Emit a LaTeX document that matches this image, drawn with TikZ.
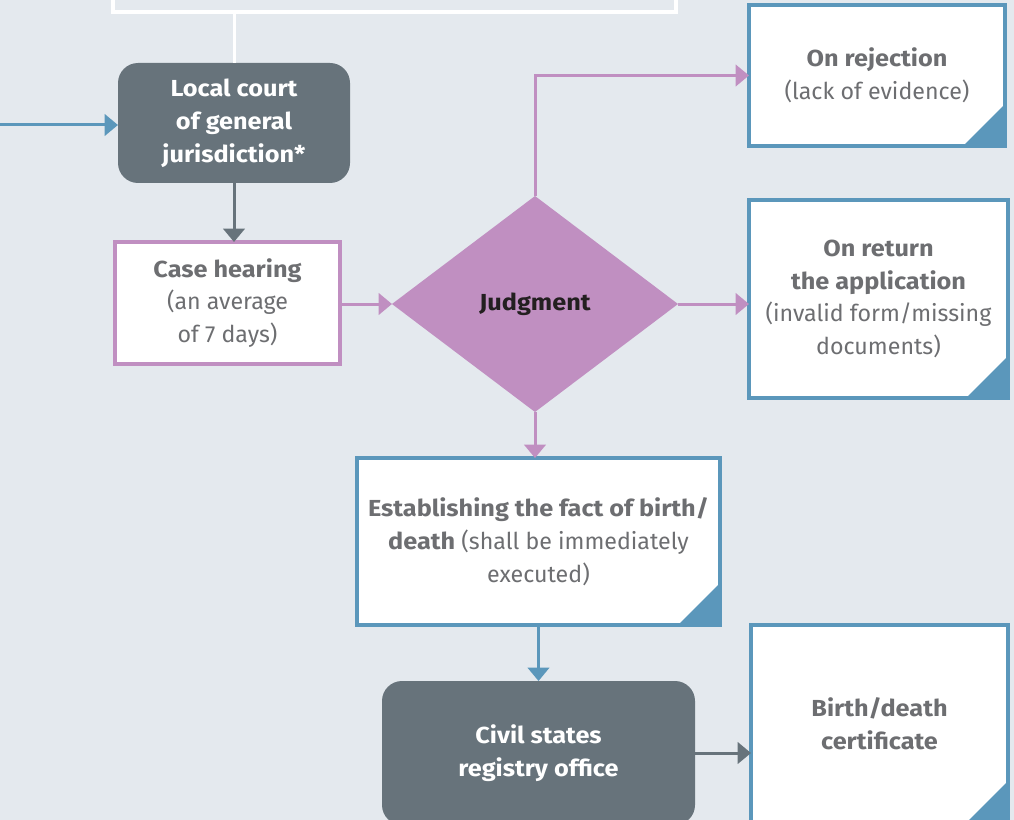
\documentclass[tikz,border=0pt]{standalone}
\usepackage{fontspec}
\setmainfont{Fira Sans}[BoldFeatures={FakeStretch=1.09}]
\usetikzlibrary{arrows.meta,shapes.geometric,calc}
\definecolor{bg}{HTML}{E4E9EE}
\definecolor{slate}{HTML}{67737B}
\definecolor{steel}{HTML}{5B97BB}
\definecolor{orchid}{HTML}{C08FC1}
\definecolor{txtgray}{HTML}{6D6E71}
\definecolor{txtdark}{HTML}{231F20}
\begin{document}
\begin{tikzpicture}[x=0.75pt,y=-0.75pt,
  every node/.style={align=center,font=\fontsize{17.4}{24.6}\selectfont,outer sep=0pt},
  darkbox/.style={rectangle,rounded corners=15pt,fill=slate,text=white,font=\fontsize{17.4}{24.6}\selectfont\bfseries},
  pinkbox/.style={rectangle,draw=orchid,line width=2.4pt,fill=white,text=txtgray},
  docbox/.style={rectangle,draw=steel,line width=2.4pt,fill=white,text=txtgray,
    path picture={\fill[steel] (path picture bounding box.south east) -- ++(-31.5pt,0pt) -- ++(31.5pt,31.5pt) -- cycle;}},
  decision/.style={diamond,fill=orchid,text=txtdark,inner sep=0pt,font=\fontsize{17.4}{24.6}\selectfont\bfseries},
  link/.style={line width=2.25pt,-{Triangle[length=10pt,width=16pt]}},
  plain/.style={line width=2.25pt}]
\fill[bg] (0,0) rectangle (1014,820);
\useasboundingbox (0,0) rectangle (1014,820);
\clip (0,0) rectangle (1014,820);

% upper frame, continuing above the visible area
\node[rectangle,draw=white,line width=2.4pt,minimum width=422.25pt,minimum height=63pt] (top) at (394.5,-30) {};

\node[darkbox,minimum width=174pt,minimum height=90pt] (local) at (234,123)
  {Local court\\of general\\jurisdiction*};
\node[pinkbox,minimum width=168.75pt,minimum height=91.5pt] (case) at (227.5,303)
  {\textbf{Case hearing}\\(an average\\of 7 days)};
\node[decision,minimum width=214.5pt,minimum height=162pt] (judg) at (535,304) {Judgment};
\node[docbox,minimum width=192pt,minimum height=105.75pt] (rej) at (877,75.5)
  {\textbf{On rejection}\\(lack of evidence)};
\node[docbox,minimum width=194.25pt,minimum height=148.5pt] (ret) at (878.5,299)
  {\textbf{On return}\\\textbf{the application}\\(invalid form/missing\\documents)};
\node[docbox,minimum width=272.25pt,minimum height=125.25pt] (est) at (538.5,541.5)
  {\textbf{Establishing the fact of birth/}\\\textbf{death} (shall be immediately\\executed)};
\node[darkbox,minimum width=234.75pt,minimum height=108pt] (civil) at (538.5,753)
  {Civil states\\registry office};
\node[docbox,minimum width=192.75pt,minimum height=148.5pt] (birth) at (879.5,724)
  {\textbf{Birth/death}\\\textbf{certificate}};

\coordinate (src) at (0,125);

% connectors
\draw[plain,white] (local.north |- top.south) -- (local.north);
\draw[link,steel] (src) -- (local.west |- src);
\draw[link,slate] (local.south) -- (local.south |- case.north);
\draw[link,orchid] (case.east |- judg.west) -- (judg.west);
\draw[link,orchid] (judg.north) |- (rej.west);
\draw[link,orchid] (judg.east) -- (judg.east -| ret.west);
\draw[link,orchid] (judg.south) -- (judg.south |- est.north);
\draw[link,steel] (est.south) -- (civil.north);
\draw[link,slate] (civil.east) -- (civil.east -| birth.west);
\end{tikzpicture}
\end{document}
